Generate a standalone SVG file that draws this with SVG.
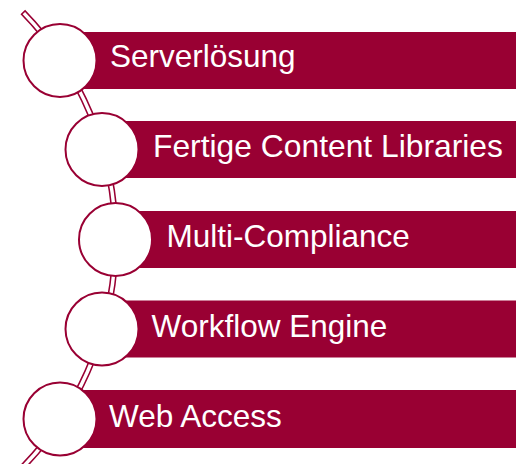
<svg xmlns="http://www.w3.org/2000/svg" width="516" height="464" viewBox="0 0 516 464">
<style>
.bar{fill:#990033}
.dot{fill:#ffffff;stroke:#990033;stroke-width:2}
.lbl{fill:#ffffff;font-family:"Liberation Sans",Arial,sans-serif;font-size:31.5px}
.rail-o{fill:none;stroke:#990033;stroke-width:6.5}
.rail-i{fill:none;stroke:#ffffff;stroke-width:3.4}
</style>
<rect width="516" height="464" fill="#ffffff"/>
<g id="connectors">
<path class="rail-o" d="M 22.8 12 A 325.5 325.5 0 0 1 17.8 472"/>
<path class="rail-i" d="M 23.85 13.07 A 325.5 325.5 0 0 1 17.8 472"/>
</g>
<g id="node1">
<rect class="bar" x="60" y="32" width="456" height="57"/>
<circle class="dot" cx="60" cy="60.5" r="36.5"/>
<text class="lbl" x="110" y="67">Serverlösung</text>
</g>
<g id="node2">
<rect class="bar" x="102" y="121" width="414" height="57"/>
<circle class="dot" cx="102" cy="149.5" r="36.5"/>
<text class="lbl" x="153" y="157" style="font-size:31.8px">Fertige Content Libraries</text>
</g>
<g id="node3">
<rect class="bar" x="115" y="211" width="401" height="57"/>
<circle class="dot" cx="115.5" cy="239.5" r="36.5"/>
<text class="lbl" x="166.5" y="247">Multi-Compliance</text>
</g>
<g id="node4">
<rect class="bar" x="102" y="300.5" width="414" height="57"/>
<circle class="dot" cx="102" cy="329" r="36.5"/>
<text class="lbl" x="151.5" y="337">Workflow Engine</text>
</g>
<g id="node5">
<rect class="bar" x="60" y="390" width="456" height="58"/>
<circle class="dot" cx="60" cy="419" r="36.5"/>
<text class="lbl" x="109" y="427">Web Access</text>
</g>
</svg>
